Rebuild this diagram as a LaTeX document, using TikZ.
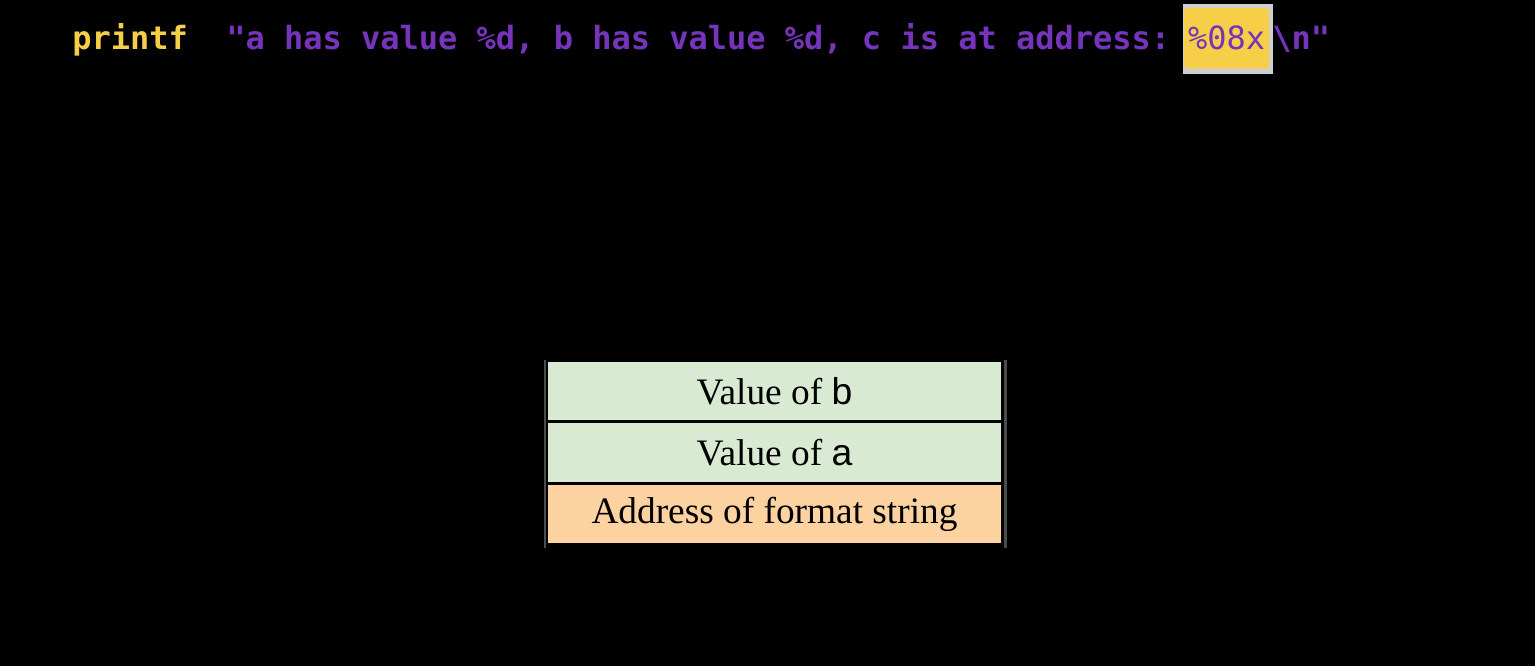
\documentclass[tikz,border=0pt]{standalone}
\usepackage{fontspec}
\setmainfont{Liberation Serif}
\setsansfont{Liberation Sans}
\setmonofont{DejaVu Sans Mono}
\usepackage{xcolor}
\usetikzlibrary{positioning,backgrounds}
\definecolor{gold}{HTML}{F6CE48}
\definecolor{violet}{HTML}{7634BA}
\definecolor{haze}{HTML}{CFCFCF}
\definecolor{rail}{HTML}{4C4C4C}
\definecolor{softgreen}{HTML}{D9EAD3}
\definecolor{softorange}{HTML}{FCD3A0}
\tikzset{
  code/.style={inner sep=0pt, anchor=base west, font=\ttfamily\bfseries\fontsize{24}{28}\selectfont},
  fmtspec/.style={fill=gold, rounded corners=3pt, text=violet, inner xsep=3pt, inner ysep=0pt,
    text height=31.5pt, text depth=14pt, font=\ttfamily\fontsize{24}{28}\selectfont},
  cell/.style={draw=black, line width=1.2pt, minimum width=341pt, minimum height=45pt,
    inner sep=0pt, font=\fontsize{28}{32}\selectfont},
  rail/.style={draw=rail, line width=2pt}
}
\begin{document}
\begin{tikzpicture}[x=0.75pt, y=-0.75pt]
  \begin{scope}[on background layer]
    \fill[black] (0,0) rectangle (1535,666);
  \end{scope}

  % the call line
  \node[code, text=gold] (call) at (72,50) {printf};
  \node[code, text=violet] (fmt) at (226,50) {"a has value \%d, b has value \%d, c is at address:};
  \node[fmtspec, right=10pt of fmt.base east, anchor=base west] (spec) {\%08x};
  \begin{scope}[on background layer]
    \fill[haze] ([xshift=-1pt,yshift=3pt]spec.north west) rectangle ([xshift=3pt,yshift=-4pt]spec.south east);
  \end{scope}
  \node[code, text=violet, right=2pt of spec.base east, anchor=base west] (tail) {\textbackslash n"};

  % stack slots
  \node[cell, fill=softgreen] (valb) at (774.5,391) {Value of {\sffamily b}};
  \node[cell, fill=softgreen, below=0pt of valb] (vala) {Value of {\sffamily a}};
  \node[cell, fill=softorange, below=0pt of vala] (addr) {Address of format string};

  \draw[rail] ([xshift=-1pt]valb.north west) -- ([xshift=-1pt,yshift=-2pt]addr.south west);
  \draw[rail] ([xshift=2pt]valb.north east) -- ([xshift=2pt,yshift=-2pt]addr.south east);
\end{tikzpicture}
\end{document}
